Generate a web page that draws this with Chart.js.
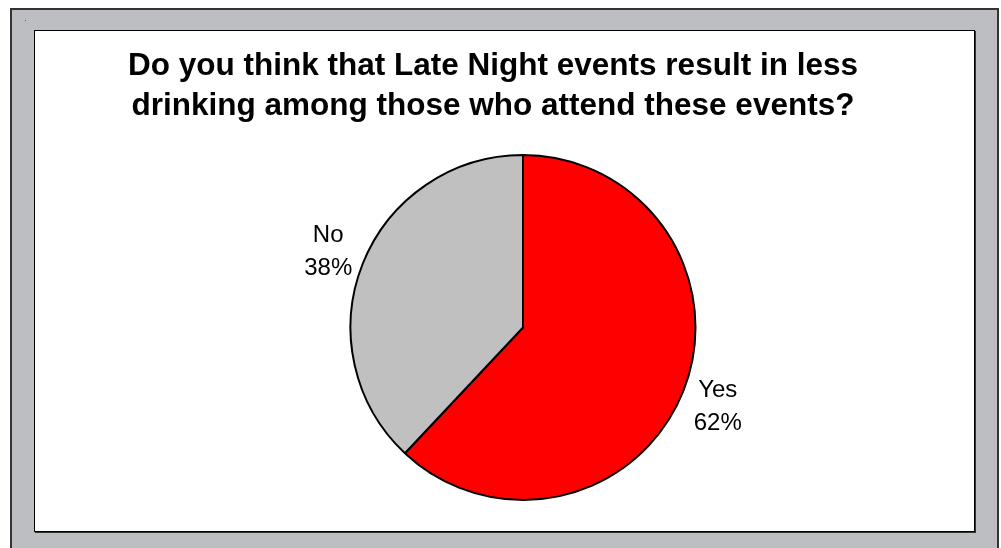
<!DOCTYPE html>
<html>
<head>
<meta charset="utf-8">
<script src="https://cdn.jsdelivr.net/npm/chart.js@4.4.0/dist/chart.umd.min.js"></script>
<style>
  html, body { margin: 0; padding: 0; background: #ffffff; width: 1001px; height: 548px; overflow: hidden; }
  #frame { position: absolute; left: 10px; top: 8px; width: 985px; height: 560px; background: #bdbec2; border: 2px solid #333333; box-sizing: content-box; }
  #plot { position: absolute; left: 34px; top: 30px; width: 939px; height: 500px; background: #ffffff; border: 1px solid #000000; box-shadow: 1px 1px 0 #333333; }
  #plot canvas { display: block; }
  #dot { position: absolute; left: 25px; top: 20px; width: 1px; height: 1px; background: #555; }
</style>
</head>
<body>
<div id="frame"></div>
<div id="dot"></div>
<div id="plot"><canvas id="c" width="939" height="500"></canvas></div>
<script>
const categories = ["Yes", "No"];
const values = [62, 38];
const percentLabels = ["62%", "38%"];
const titleLines = ["Do you think that Late Night events result in less", "drinking among those who attend these events?"];
const sliceColors = ["#ff0000", "#c0c0c0"];

const titlePlugin = {
  id: 'excelTitle',
  afterDraw(chart, args, opts) {
    const ctx = chart.ctx;
    ctx.save();
    ctx.fillStyle = '#000';
    ctx.font = 'bold 31.5px "Liberation Sans", Arial, sans-serif';
    ctx.textAlign = 'center';
    ctx.textBaseline = 'alphabetic';
    opts.lines.forEach((l, i) => ctx.fillText(l, opts.x, opts.y + i * opts.lineGap));
    ctx.restore();
  }
};

const outsideLabels = {
  id: 'outsideLabels',
  afterDatasetsDraw(chart, args, opts) {
    const ctx = chart.ctx;
    const meta = chart.getDatasetMeta(0);
    ctx.save();
    ctx.fillStyle = '#000';
    ctx.font = '24px "Liberation Sans", Arial, sans-serif';
    ctx.textAlign = 'center';
    ctx.textBaseline = 'alphabetic';
    meta.data.forEach((arc, i) => {
      const p = arc.getProps(['x', 'y', 'startAngle', 'endAngle', 'outerRadius'], true);
      const mid = (p.startAngle + p.endAngle) / 2;
      const d = p.outerRadius + opts.gap;
      const cx = p.x + Math.cos(mid) * d;
      const cy = p.y + Math.sin(mid) * d;
      ctx.fillText(chart.data.labels[i], cx, cy - 8);
      ctx.fillText(percentLabels[i], cx, cy + 25);
    });
    ctx.restore();
  }
};

new Chart(document.getElementById('c'), {
  type: 'pie',
  data: {
    labels: categories,
    datasets: [{
      data: values,
      backgroundColor: sliceColors,
      borderColor: '#000000',
      borderWidth: 2
    }]
  },
  options: {
    responsive: false,
    animation: false,
    radius: 172.5,
    layout: { padding: { left: 37, right: 0, top: 93, bottom: 0 } },
    plugins: {
      legend: { display: false },
      tooltip: { enabled: false },
      title: { display: false },
      excelTitle: { lines: titleLines, x: 458, y: 44, lineGap: 40 },
      outsideLabels: { gap: 37 }
    }
  },
  plugins: [titlePlugin, outsideLabels]
});
</script>
</body>
</html>
